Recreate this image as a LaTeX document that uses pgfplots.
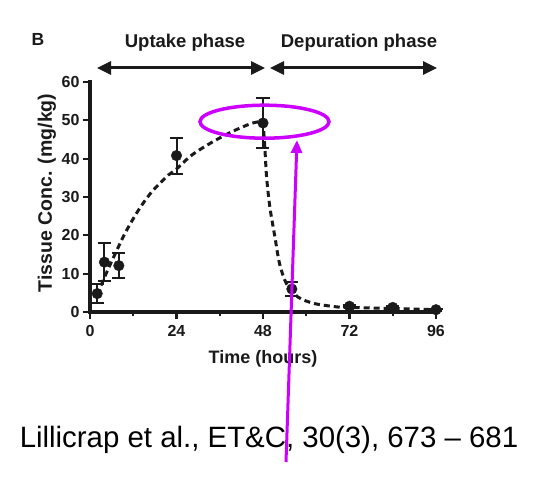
\documentclass[border=0pt]{standalone}
\usepackage{pgfplots}
\pgfplotsset{compat=1.18}
\usepackage{pgfplotstable}
\usepackage{fontspec}
\setmainfont{Liberation Sans}
\usetikzlibrary{arrows.meta}
\definecolor{mag}{RGB}{204,0,255}
\definecolor{ink}{RGB}{26,26,26}

\pgfplotstableread{
t c e
2 4.8 2.4
4 13.0 5.0
8 12.1 3.3
24 40.8 4.7
48 49.3 6.4
56 6.0 1.9
72 1.5 0.3
84 1.2 0.3
96 0.6 0.3
}\pointdata

\begin{document}
\begin{tikzpicture}
\path[use as bounding box] (-90pt,-178pt) rectangle (459pt,312pt);
\begin{axis}[
  at={(0pt,0pt)}, anchor=south west,
  scale only axis, width=346pt, height=230pt,
  xmin=0, xmax=96, ymin=0, ymax=60,
  axis x line*=bottom, axis y line*=left,
  axis line style={line width=3.2pt, -, ink, line cap=rect},
  xtick={0,24,48,72,96}, minor xtick={12,36,60,84},
  ytick={0,10,...,60},
  tick align=outside,
  major tick length=7pt, minor tick length=4pt,
  every tick/.style={ink, line width=2.2pt},
  tick label style={font=\fontsize{16}{16}\selectfont\bfseries, text=ink},
  xticklabel style={yshift=-3pt},
  /pgf/number format/assume math mode=true,
  clip=false,
]
\addplot[ink, line width=3pt, dash pattern=on 6pt off 4pt, smooth] coordinates {
 (2,4.5)(4,9)(6.5,14.2)(9.7,20.5)(13.4,26.5)(17.1,31.3)(21.7,35.7)(24,37.3)
 (28.2,40.9)(33.7,44.2)(39.3,47)(44.8,49.2)(48,49.8)};
\addplot[ink, line width=3pt, dash pattern=on 6pt off 4pt, smooth] coordinates {
 (48,49.8)(48.5,43)(49,35.2)(49.9,27.4)(51.3,19.6)(52.6,12.6)(54.5,7.4)
 (57.7,3.9)(62.3,2.2)(68.8,1.3)(72,1.2)(84,0.9)(96,0.6)};
\addplot[ink, only marks, mark=*, mark size=5.3pt,
  mark options={fill=ink, draw=ink},
  error bars/.cd, y dir=both, y explicit,
  error bar style={line width=2pt, ink},
  error mark options={rotate=90, mark size=6.5pt, line width=2pt, ink}]
  table[x=t, y=c, y error=e] {\pointdata};
\end{axis}
\node[anchor=base, font=\fontsize{17.5}{17.5}\selectfont\bfseries, text=ink] at (-52pt,266pt) {B};
\node[anchor=base, font=\fontsize{18.5}{18.5}\selectfont\bfseries, text=ink] at (95pt,264pt) {Uptake phase};
\node[anchor=base, font=\fontsize{18.5}{18.5}\selectfont\bfseries, text=ink] at (269pt,264pt) {Depuration phase};
\draw[ink, line width=3pt, {Triangle[length=14pt,width=13pt]}-{Triangle[length=14pt,width=13pt]}] (7pt,244pt) -- (175pt,244pt);
\draw[ink, line width=3pt, {Triangle[length=14pt,width=13pt]}-{Triangle[length=14pt,width=13pt]}] (180pt,244pt) -- (347pt,244pt);
\node[rotate=90, font=\fontsize{19.5}{19.5}\selectfont\bfseries, text=ink] at (-43pt,119pt) {Tissue Conc. (mg/kg)};
\node[anchor=base, font=\fontsize{18}{18}\selectfont\bfseries, text=ink] at (173pt,-51pt) {Time (hours)};
\node[anchor=base, font=\fontsize{29.4}{29.4}\selectfont] at (179pt,-135pt) {Lillicrap et al., ET\&C, 30(3), 673 – 681};
\draw[mag, line width=3.5pt] (174.5pt,190.3pt) ellipse [x radius=64.5pt, y radius=16.5pt];
\draw[mag, line width=3pt, -{Triangle[length=13pt,width=11pt]}] (196pt,-150pt) -- (207pt,172pt);
\end{tikzpicture}
\end{document}
